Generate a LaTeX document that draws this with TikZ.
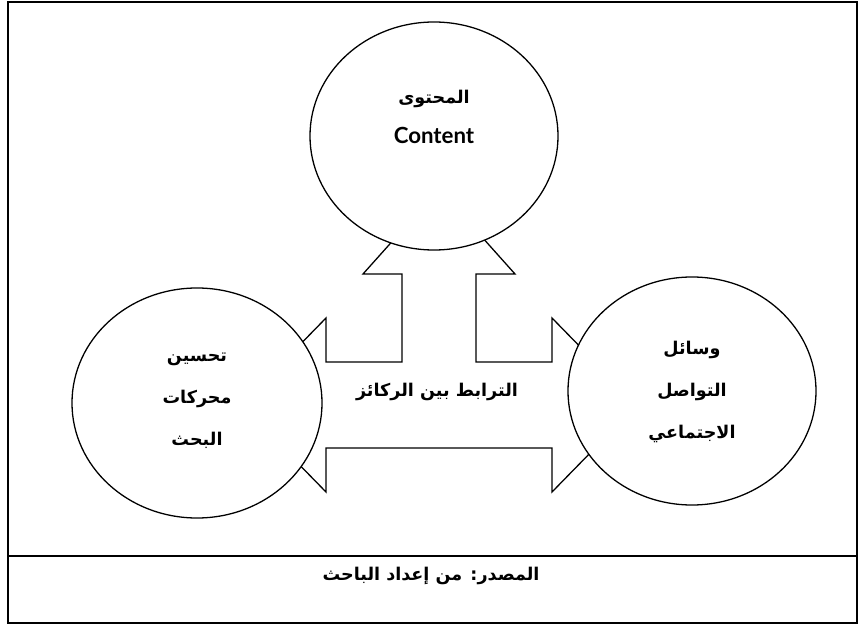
\documentclass[tikz,border=0pt]{standalone}
\usepackage{fontspec}
\setmainfont{DejaVu Sans}
\newfontfamily\arabicfont[Script=Arabic]{DejaVu Sans}
\newfontfamily\latinfont{Lato}
\TeXXeTstate=1
\usetikzlibrary{shapes.geometric}

\begin{document}
\begin{tikzpicture}[x=0.03cm, y=-0.03cm,
	every node/.style={font=\arabicfont\bfseries\fontsize{15}{36}\selectfont, align=center},
	pillar/.style={ellipse, draw, line width=1.1pt, fill=white, inner sep=0pt}]
	\useasboundingbox (0,0) rectangle (858,625);
	\draw[line width=1.3pt] (8,2) rectangle (857,623);
	\draw[line width=1.6pt] (8,556) -- (857,556);
	% arrow joining the three pillars
	\draw[line width=1.1pt, fill=white] (241,405) -- (326,318) -- (326,362) -- (402,362) -- (402,274)
		-- (363,274) -- (439,189) -- (515,274) -- (476,274) -- (476,362) -- (552,362) -- (552,318)
		-- (637,405) -- (552,492) -- (552,448) -- (326,448) -- (326,492) -- cycle;
	\node[pillar, minimum width=7.44cm, minimum height=6.84cm] (content) at (434,136) {};
	\node[pillar, minimum width=7.5cm, minimum height=6.9cm] (seo) at (197,403) {};
	\node[pillar, minimum width=7.44cm, minimum height=6.84cm] (social) at (692,391) {};
	\node[font=\arabicfont\bfseries\fontsize{15}{34}\selectfont] (contentlbl) at (434,117)
		{\beginR المحتوى\endR\\{\latinfont\fontsize{19}{20}\selectfont Content}};
	\node (seolbl) at (197,401) {\beginR تحسين\endR\\\beginR محركات\endR\\\beginR البحث\endR};
	\node (sociallbl) at (692,392) {\beginR وسائل\endR\\\beginR التواصل\endR\\\beginR الاجتماعي\endR};
	\node (linklbl) at (437,392) {\beginR الترابط بين الركائز\endR};
	\node (source) at (431,576) {\beginR المصدر: من إعداد الباحث\endR};
\end{tikzpicture}
\end{document}
